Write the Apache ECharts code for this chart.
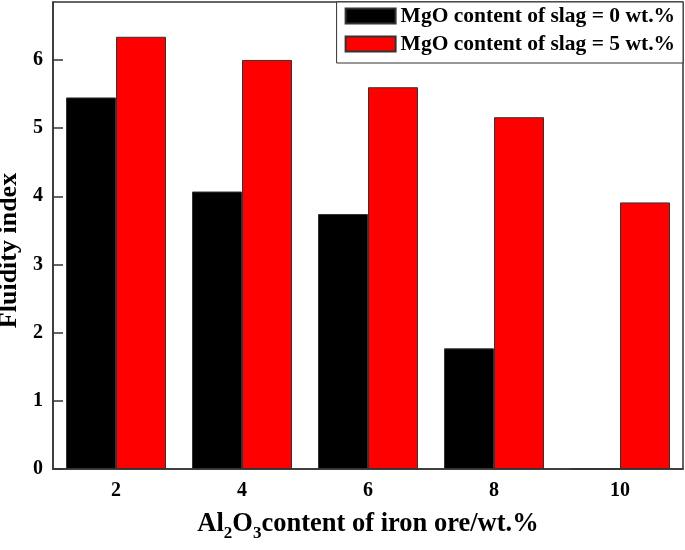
<!DOCTYPE html>
<html>
<head>
<meta charset="utf-8">
<script src="https://cdn.jsdelivr.net/npm/echarts@6/dist/echarts.min.js"></script>
<style>html,body{margin:0;padding:0;background:#fff}#c{width:685px;height:550px}</style>
</head>
<body>
<div id="c"></div>
<script>
var categories = ['2', '4', '6', '8', '10'];
var mgo0 = [5.45, 4.07, 3.74, 1.77, 0];
var mgo5 = [6.34, 6.00, 5.60, 5.16, 3.91];
var seriesNames = ['MgO content of slag = 0 wt.%', 'MgO content of slag = 5 wt.%'];

var FONT = "'Liberation Serif', 'Times New Roman', serif";
var chart = echarts.init(document.getElementById('c'), null, {renderer: 'canvas'});
chart.setOption({
  animation: false,
  backgroundColor: '#fff',
  textStyle: {fontFamily: FONT},
  grid: {left: 53, right: 2, top: 2, bottom: 81, containLabel: false, outerBoundsMode: 'none',
         show: true, borderColor: '#333', borderWidth: 1.5, backgroundColor: 'transparent'},
  legend: {
    right: 2, top: 2,
    orient: 'vertical',
    icon: 'rect',
    itemWidth: 50, itemHeight: 15, itemGap: 6, itemTextGap: 4,
    backgroundColor: '#fff',
    borderColor: '#333', borderWidth: 1,
    padding: [3, 8, 8, 8],
    textStyle: {fontFamily: FONT, fontWeight: 'bold', fontSize: 21.5, color: '#000'},
    data: seriesNames
  },
  xAxis: {
    type: 'category',
    data: categories,
    axisLine: {lineStyle: {color: '#333', width: 1.5}},
    axisTick: {show: false},
    axisLabel: {fontFamily: FONT, fontWeight: 'bold', fontSize: 20, color: '#000', margin: 12},
    name: '{m|Al}{s|2}{m|O}{s|3}{m|content of iron ore/wt.%}',
    nameLocation: 'middle',
    nameGap: 42,
    nameTextStyle: {
      rich: {
        m: {fontFamily: FONT, fontWeight: 'bold', fontSize: 26.5, color: '#000', verticalAlign: 'top', lineHeight: 26},
        s: {fontFamily: FONT, fontWeight: 'bold', fontSize: 17, color: '#000', verticalAlign: 'top', lineHeight: 17, padding: [14, 0, 0, 0]}
      }
    }
  },
  yAxis: {
    type: 'value',
    min: 0, max: 6.85, interval: 1,
    axisLine: {show: true, lineStyle: {color: '#333', width: 1.5}},
    axisTick: {show: true, inside: true, length: 10, lineStyle: {color: '#333', width: 1.5}},
    splitLine: {show: false},
    axisLabel: {fontFamily: FONT, fontWeight: 'bold', fontSize: 20, color: '#000', margin: 10, showMaxLabel: false},
    name: 'Fluidity index',
    nameLocation: 'middle',
    nameGap: 24,
    nameTextStyle: {fontFamily: FONT, fontWeight: 'bold', fontSize: 26, color: '#000', padding: [0, 30, 0, 0]}
  },
  series: [
    {name: seriesNames[0], type: 'bar', data: mgo0, barWidth: 50, barGap: '0%',
     itemStyle: {color: '#000', borderColor: '#333', borderWidth: 1}},
    {name: seriesNames[1], type: 'bar', data: mgo5, barWidth: 50, barGap: '0%',
     itemStyle: {color: '#ff0000', borderColor: '#333', borderWidth: 1}}
  ]
});
</script>
</body>
</html>
